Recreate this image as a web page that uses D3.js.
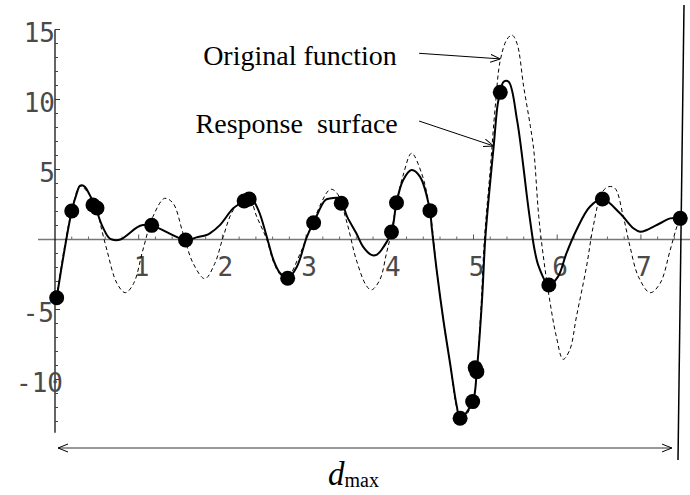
<!DOCTYPE html>
<html>
<head>
<meta charset="utf-8">
<script src="https://cdn.jsdelivr.net/npm/d3@7"></script>
<style>
  body { margin: 0; background: #fff; }
  svg { display: block; }
</style>
</head>
<body>
<div id="chart"></div>
<script>
const width = 690, height = 495;

// original function (dashed)
const funcX = [0.02, 0.1, 0.2, 0.3, 0.4, 0.5, 0.54, 0.62, 0.74, 0.84, 0.94, 1.05, 1.17, 1.31, 1.41, 1.53, 1.65, 1.79, 1.91, 2.01, 2.13, 2.31, 2.41, 2.53, 2.61, 2.69, 2.77, 2.93, 3.09, 3.29, 3.37, 3.49, 3.60, 3.72, 3.78, 3.88, 3.96, 4.02, 4.08, 4.16, 4.26, 4.38, 4.48, 4.56, 4.64, 4.72, 4.80, 4.86, 4.99, 5.04, 5.09, 5.13, 5.20, 5.26, 5.32, 5.40, 5.46, 5.52, 5.60, 5.68, 5.72, 5.78, 5.84, 5.91, 5.99, 6.07, 6.15, 6.23, 6.35, 6.43, 6.53, 6.61, 6.69, 6.79, 6.87, 6.97, 7.11, 7.23, 7.35, 7.43, 7.47];
const funcY = [-4.16, -1.0, 2.04, 3.8, 3.3, 2.25, 1.16, -0.75, -3.13, -3.8, -3.13, -0.75, 1.63, 2.94, 2.59, 0.44, -1.7, -2.8, -1.7, 0.2, 2.1, 3.06, 1.63, 0.0, -1.6, -2.5, -2.77, -0.99, 1.39, 3.58, 3.3, 1.16, -1.46, -3.3, -3.6, -2.9, -0.99, 0.54, 2.63, 4.6, 6.16, 4.73, 2.06, -2.2, -5.8, -8.9, -12.0, -12.9, -11.6, -9.3, -4.8, 0.0, 5.0, 9.5, 12.8, 14.3, 14.6, 14.0, 10.9, 8.06, 6.39, 1.63, -1.46, -4.32, -6.94, -8.56, -7.89, -5.51, -1.94, 0.92, 3.3, 3.77, 3.66, 1.63, -0.51, -2.65, -3.8, -3.13, -0.75, 0.92, 1.51];

// response surface (solid)
const surfX = [0.02, 0.2, 0.26, 0.30, 0.35, 0.43, 0.48, 0.56, 0.64, 0.68, 0.78, 0.98, 1.05, 1.155, 1.56, 1.69, 1.81, 1.85, 1.97, 2.13, 2.26, 2.33, 2.43, 2.53, 2.61, 2.69, 2.78, 2.89, 3.01, 3.09, 3.23, 3.30, 3.40, 3.49, 3.60, 3.68, 3.78, 3.84, 3.90, 4.02, 4.08, 4.16, 4.26, 4.36, 4.48, 4.50, 4.56, 4.64, 4.72, 4.80, 4.84, 4.99, 5.04, 5.10, 5.14, 5.19, 5.24, 5.29, 5.32, 5.36, 5.42, 5.52, 5.60, 5.64, 5.68, 5.73, 5.78, 5.90, 6.01, 6.11, 6.23, 6.39, 6.54, 6.75, 6.91, 6.99, 7.07, 7.23, 7.35, 7.47];
const surfY = [-4.16, 2.04, 3.3, 3.84, 3.8, 3.0, 2.35, 1.03, 0.15, 0.0, 0.0, 0.87, 1.03, 1.01, -0.04, 0.15, 0.32, 0.44, 1.03, 2.23, 2.75, 3.06, 2.1, 0.2, -1.46, -2.41, -2.77, -1.94, 0.2, 1.2, 2.82, 2.94, 2.94, 1.63, 0.44, -0.51, -1.1, -1.1, -0.75, 0.54, 2.63, 4.25, 4.96, 4.49, 2.06, 0.92, -2.18, -5.75, -8.84, -11.9, -12.77, -11.58, -9.3, -4.5, 0.0, 3.5, 6.6, 9.7, 10.5, 11.27, 11.27, 8.54, 5.0, 3.0, 1.2, -0.75, -1.94, -3.25, -2.65, -0.99, 0.68, 2.34, 2.89, 1.87, 0.8, 0.56, 0.68, 1.16, 1.51, 1.51];

// sample points
const sampleX = [0.02, 0.2, 0.454, 0.502, 1.155, 1.56, 2.26, 2.32, 2.78, 3.09, 3.42, 4.02, 4.08, 4.48, 4.84, 4.99, 5.02, 5.04, 5.32, 5.90, 6.54, 7.47];
const sampleY = [-4.16, 2.04, 2.46, 2.25, 1.01, -0.04, 2.75, 2.89, -2.77, 1.2, 2.59, 0.54, 2.63, 2.06, -12.77, -11.58, -9.16, -9.44, 10.51, -3.25, 2.89, 1.51];

const xTicks = [1, 2, 3, 4, 5, 6, 7];
const yTicks = [-10, -5, 5, 10, 15];

const svg = d3.select("#chart").append("svg")
    .attr("width", width)
    .attr("height", height);

const x = d3.scaleLinear().domain([0, 7]).range([55, 55 + 7 * 83.7]);
const y = d3.scaleLinear().domain([0, 15]).range([239.5, 239.5 - 15 * 14]);

// x axis line + ticks
svg.append("line")
    .attr("x1", 38).attr("x2", width)
    .attr("y1", y(0)).attr("y2", y(0))
    .attr("stroke", "#777").attr("stroke-width", 1.5);

const xMinor = d3.range(1, 38).map(d => d / 5).filter(d => Math.abs(d - Math.round(d)) > 0.01);
svg.append("g").selectAll("line").data(xMinor).join("line")
    .attr("x1", d => x(d)).attr("x2", d => x(d))
    .attr("y1", y(0)).attr("y2", y(0) - 3)
    .attr("stroke", "#666").attr("stroke-width", 1);
svg.append("g").selectAll("line").data(xTicks).join("line")
    .attr("x1", d => x(d)).attr("x2", d => x(d))
    .attr("y1", y(0)).attr("y2", y(0) - 5)
    .attr("stroke", "#555").attr("stroke-width", 1);

// y axis line + ticks
svg.append("line")
    .attr("x1", x(0)).attr("x2", x(0))
    .attr("y1", y(15)).attr("y2", y(-13.8))
    .attr("stroke", "#111").attr("stroke-width", 1.3);

const yMinor = d3.range(-13, 15).filter(d => d % 5 !== 0);
svg.append("g").selectAll("line").data(yMinor).join("line")
    .attr("x1", x(0)).attr("x2", x(0) + 3)
    .attr("y1", d => y(d)).attr("y2", d => y(d))
    .attr("stroke", "#444").attr("stroke-width", 1);
svg.append("g").selectAll("line").data(yTicks).join("line")
    .attr("x1", x(0)).attr("x2", x(0) + 5)
    .attr("y1", d => y(d)).attr("y2", d => y(d))
    .attr("stroke", "#333").attr("stroke-width", 1);

// tick labels
const tickFont = "'DejaVu Sans Mono', monospace";
svg.append("g").selectAll("text").data(xTicks).join("text")
    .attr("x", d => x(d) + 3)
    .attr("y", y(0) + 36)
    .attr("text-anchor", "middle")
    .attr("font-family", tickFont)
    .attr("font-size", 26)
    .attr("fill", "#4a4a4a")
    .text(d => d);

svg.append("g").selectAll("text").data(yTicks).join("text")
    .attr("x", d => d === -10 ? x(0) + 8 : x(0) - (d < 0 ? 1 : 0))
    .attr("y", d => y(d) + 12.5)
    .attr("text-anchor", "end")
    .attr("font-family", tickFont)
    .attr("font-size", 26)
    .attr("fill", "#4a4a4a")
    .text(d => d < 0 ? "-" + Math.abs(d) : d);

// curves
const curve = d3.curveCatmullRom.alpha(0.5);
const line = d3.line().x(d => x(d[0])).y(d => y(d[1])).curve(curve);

svg.append("path")
    .datum(d3.zip(funcX, funcY))
    .attr("d", line)
    .attr("fill", "none")
    .attr("stroke", "#000")
    .attr("stroke-width", 1)
    .attr("stroke-dasharray", "4,3");

svg.append("path")
    .datum(d3.zip(surfX, surfY))
    .attr("d", line)
    .attr("fill", "none")
    .attr("stroke", "#000")
    .attr("stroke-width", 2)
    .attr("stroke-linejoin", "round");

svg.append("g").selectAll("circle").data(d3.zip(sampleX, sampleY)).join("circle")
    .attr("cx", d => x(d[0]))
    .attr("cy", d => y(d[1]))
    .attr("r", 7.5)
    .attr("fill", "#000");

// arrowheads
const defs = svg.append("defs");
defs.append("marker")
    .attr("id", "open")
    .attr("viewBox", "0 0 10 10")
    .attr("refX", 10).attr("refY", 5)
    .attr("markerWidth", 10).attr("markerHeight", 10)
    .attr("markerUnits", "userSpaceOnUse")
    .attr("orient", "auto-start-reverse")
    .append("path")
    .attr("d", "M0,1 L10,5 L0,9")
    .attr("fill", "none")
    .attr("stroke", "#000")
    .attr("stroke-width", 1);

// annotations
const serif = "'Liberation Serif', 'Times New Roman', serif";
svg.append("text")
    .attr("x", x(1.77)).attr("y", y(12.46))
    .attr("font-family", serif).attr("font-size", 28)
    .text("Original function");
svg.append("text")
    .attr("x", x(1.68)).attr("y", y(7.61))
    .attr("font-family", serif).attr("font-size", 28)
    .attr("xml:space", "preserve")
    .text("Response  surface");

svg.append("line")
    .attr("x1", x(4.35)).attr("y1", y(13.3))
    .attr("x2", x(5.32)).attr("y2", y(12.9))
    .attr("stroke", "#000").attr("stroke-width", 1)
    .attr("marker-end", "url(#open)");
svg.append("line")
    .attr("x1", x(4.35)).attr("y1", y(8.46))
    .attr("x2", x(5.24)).attr("y2", y(6.68))
    .attr("stroke", "#000").attr("stroke-width", 1)
    .attr("marker-end", "url(#open)");

// right boundary line
svg.append("line")
    .attr("x1", 684).attr("y1", 5)
    .attr("x2", 678).attr("y2", 460)
    .attr("stroke", "#000").attr("stroke-width", 1.5);

// d_max arrow
svg.append("line")
    .attr("x1", x(0.036)).attr("y1", 448)
    .attr("x2", x(7.37)).attr("y2", 448)
    .attr("stroke", "#333").attr("stroke-width", 1)
    .attr("marker-start", "url(#open)")
    .attr("marker-end", "url(#open)");

const dl = svg.append("text")
    .attr("x", 328).attr("y", 485)
    .attr("font-family", serif);
dl.append("tspan").attr("font-style", "italic").attr("font-size", 33).text("d");
dl.append("tspan").attr("font-size", 20).attr("dy", 2).text("max");
</script>
</body>
</html>
